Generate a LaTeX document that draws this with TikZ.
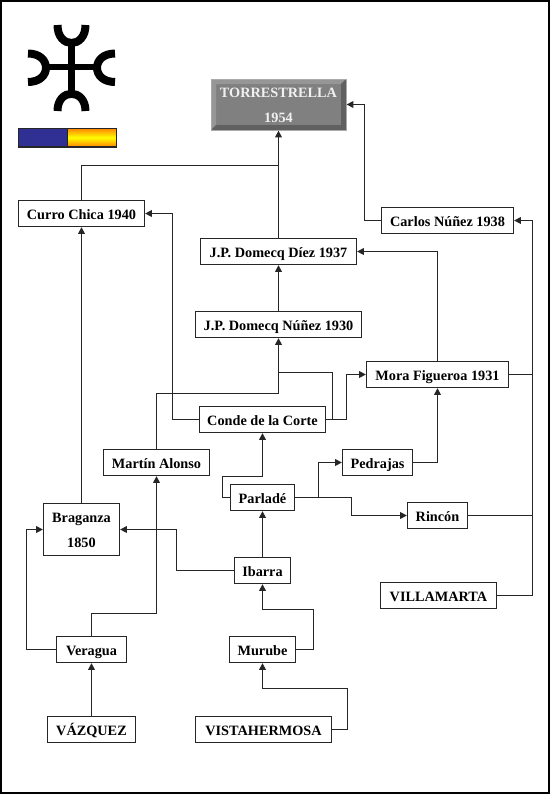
\documentclass[tikz,border=0pt]{standalone}
\usepackage{fontspec}
\setmainfont{Liberation Serif}
\usetikzlibrary{arrows.meta}
\definecolor{linec}{HTML}{262626}
\definecolor{flagblue}{RGB}{48,48,148}
\definecolor{torreface}{RGB}{128,128,128}
\definecolor{torrelight}{RGB}{150,150,150}
\definecolor{torredark}{RGB}{96,96,96}
\definecolor{torrerim}{RGB}{170,170,170}
\definecolor{torretext}{RGB}{240,240,240}
\tikzset{
  px/.style={x=0.75pt,y=-0.75pt},
  box/.style={draw=linec,line width=1pt,fill=white,inner sep=0pt,align=center,text=black,
    font=\fontsize{10.7}{18.75}\selectfont\bfseries},
  link/.style={draw=linec,line width=1pt},
  arrowed/.style={link,-{Triangle[length=5pt,width=5pt]}},
  logo/.style={draw=black,line width=6pt,line cap=butt},
  logobar/.style={draw=black,line width=5pt,line cap=butt},
}
\newcommand{\bxstrut}{\rule[-2.7pt]{0pt}{14.4pt}}
\newcommand{\bxx}[5]{\node[box,minimum width=#4*0.75pt,minimum height=#5*0.75pt] (#1) at (#2) {\bxstrut#3\bxstrut};}
\begin{document}
\begin{tikzpicture}[px]
\useasboundingbox (0,0) rectangle (550,794);
\fill[white] (0,0) rectangle (550,794);
\draw[black,line width=1.5pt] (0.8,0.8) rectangle (549.2,793.2);

% logo
\draw[logobar] (71.5,43) -- (71.5,94);
\draw[logobar] (46,67) -- (97,67);
\draw[logo] (57.5,25) .. controls (57.5,49) and (85.5,49) .. (85.5,25);
\draw[logo] (57.5,111) .. controls (57.5,88) and (85.5,88) .. (85.5,111);
\draw[logo] (28,53.5) .. controls (52,53.5) and (52,82) .. (28,82);
\draw[logo] (115,53.5) .. controls (91,53.5) and (91,82) .. (115,82);

% flag
\fill[flagblue] (18,128) rectangle (67,147);
\shade[top color=orange,bottom color=orange,middle color=yellow] (67,128) rectangle (116,147);
\draw[linec,line width=0.8pt] (18.5,128.5) rectangle (116.5,147) (67.5,128.5) -- (67.5,147);

% nodes
\node[box,draw=none,fill=torreface,text=torretext,minimum width=135*0.75pt,minimum height=51*0.75pt] (torre) at (278.5,104.5) {\rule[-2.7pt]{0pt}{14.4pt}TORRESTRELLA\\1954\rule[-4.2pt]{0pt}{4.2pt}};
\fill[torrelight] (211,79) -- (346,79) -- (341,84) -- (216,84) -- (216,125) -- (211,130) -- cycle;
\fill[torredark] (346,79) -- (346,130) -- (211,130) -- (216,125) -- (341,125) -- (341,84) -- cycle;
\draw[line width=0.6pt,draw=torrerim] (211,79) rectangle (346,130);

\bxx{curro}{81.5,213.5}{Curro Chica 1940}{126}{26}
\bxx{diez}{278.5,251.5}{J.P. Domecq Díez 1937}{156}{26}
\bxx{carlos}{447.5,220.5}{Carlos Núñez 1938}{132}{26}
\bxx{nunez}{278.5,324.5}{J.P. Domecq Núñez 1930}{166}{26}
\bxx{mora}{437.5,374.5}{Mora Figueroa 1931}{142}{26}
\bxx{conde}{262.5,419.5}{Conde de la Corte}{126}{26}
\bxx{martin}{156.5,462.5}{Martín Alonso}{106}{26}
\bxx{parlade}{262.5,497.5}{Parladé}{64}{26}
\bxx{pedrajas}{377.5,462.5}{Pedrajas}{70}{26}
\bxx{rincon}{437.5,515.5}{Rincón}{60}{26}
\node[box,minimum width=76*0.75pt,minimum height=52*0.75pt] (braganza) at (81.5,529.5) {\rule[-2.7pt]{0pt}{14.4pt}Braganza\\1850\rule[-4.2pt]{0pt}{4.2pt}};
\bxx{ibarra}{262.5,570.5}{Ibarra}{56}{26}
\bxx{villamarta}{438.5,595.5}{VILLAMARTA}{116}{26}
\bxx{veragua}{91.5,649.5}{Veragua}{70}{26}
\bxx{murube}{262.5,649.5}{Murube}{66}{26}
\bxx{vazquez}{91.5,729.5}{VÁZQUEZ}{88}{26}
\bxx{vista}{263.5,729.5}{VISTAHERMOSA}{136}{26}

% free bend points
\coordinate (topbar) at (81.5,165.5);
\coordinate (carlosbend) at (364.5,220.5);
\coordinate (bus) at (532.5,220.5);
\coordinate (condeL) at (172.5,419.5);
\coordinate (condeR1) at (332.5,419.5);
\coordinate (condeR2) at (346.5,419.5);
\coordinate (nunezJoin1) at (278.5,372.5);
\coordinate (nunezJoin2) at (278.5,393.5);
\coordinate (parlL) at (222.5,497.5);
\coordinate (parlUp) at (262.5,476.5);
\coordinate (parlR1) at (318.5,497.5);
\coordinate (parlR2) at (351.5,497.5);
\coordinate (ibarraL) at (176.5,570.5);
\coordinate (veragL) at (26.5,649.5);
\coordinate (veragUp) at (91.5,613.5);
\coordinate (murubeR) at (313.5,649.5);
\coordinate (ibarraDown) at (262.5,609.5);
\coordinate (vistaR) at (347.5,729.5);
\coordinate (murubeDown) at (262.5,688.5);

% connectors
\draw[arrowed] (diez.north) -- (torre.south);
\draw[link] (curro.north) -- (topbar) -- (topbar -| diez.north);
\draw[arrowed] (carlos.west) -- (carlosbend) |- (torre.east);
\draw[arrowed] (nunez.north) -- (diez.south);
\draw[arrowed] (mora.north) |- (diez.east);
\draw[arrowed] (villamarta.east) -| (bus) -- (carlos.east);
\draw[link] (mora.east) -- (mora.east -| bus);
\draw[link] (rincon.east) -- (rincon.east -| bus);
\draw[arrowed] (pedrajas.east) -| (mora.south);
\draw[arrowed] (parlade.east) -- (parlR1) |- (pedrajas.west);
\draw[arrowed] (parlade.east) -- (parlR2) |- (rincon.west);
\draw[arrowed] (parlade.west) -- (parlL) |- (parlUp) -- (conde.south);
\draw[arrowed] (conde.east) -- (condeR2) |- (mora.west);
\draw[link] (conde.east) -- (condeR1) |- (nunezJoin1);
\draw[arrowed] (martin.north) |- (nunezJoin2) -- (nunez.south);
\draw[arrowed] (conde.west) -- (condeL) |- (curro.east);
\draw[arrowed] (braganza.north) -- (curro.south);
\draw[arrowed] (ibarra.north) -- (parlade.south);
\draw[arrowed] (ibarra.west) -- (ibarraL) |- (braganza.east);
\draw[arrowed] (veragua.west) -- (veragL) |- (braganza.west);
\draw[arrowed] (veragua.north) -- (veragUp) -| (martin.south);
\draw[arrowed] (vazquez.north) -- (veragua.south);
\draw[arrowed] (murube.east) -- (murubeR) |- (ibarraDown) -- (ibarra.south);
\draw[arrowed] (vista.east) -- (vistaR) |- (murubeDown) -- (murube.south);
\end{tikzpicture}
\end{document}
